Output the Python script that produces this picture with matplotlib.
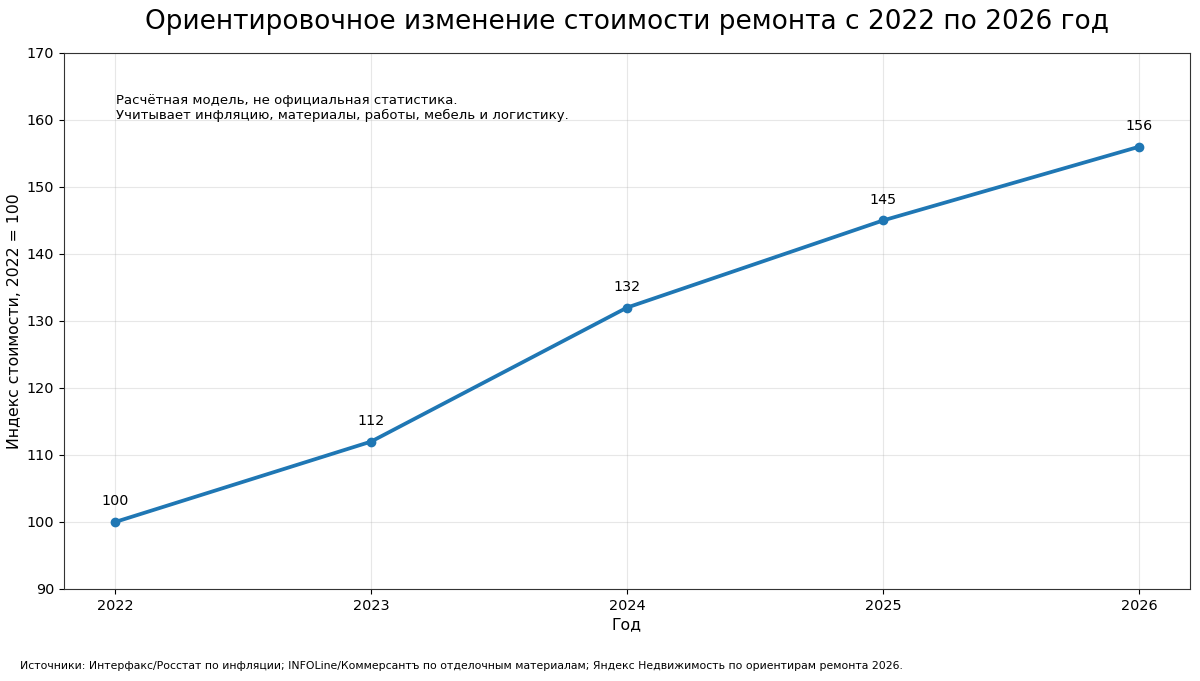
import matplotlib
matplotlib.use("Agg")
import matplotlib.pyplot as plt

years = [2022, 2023, 2024, 2025, 2026]
index_values = [100, 112, 132, 145, 156]
y_ticks = [90, 100, 110, 120, 130, 140, 150, 160, 170]

title = "Ориентировочное изменение стоимости ремонта с 2022 по 2026 год"
x_label = "Год"
y_label = "Индекс стоимости, 2022 = 100"
note = "Расчётная модель, не официальная статистика.\nУчитывает инфляцию, материалы, работы, мебель и логистику."
footer = ("Источники: Интерфакс/Росстат по инфляции; INFOLine/Коммерсантъ по отделочным материалам; "
          "Яндекс Недвижимость по ориентирам ремонта 2026.")

plt.rcParams['font.family'] = ['DejaVu Sans']
fig = plt.figure(figsize=(12, 6.81), dpi=100)
ax = fig.add_axes([0.0533, 0.1351, 0.9384, 0.7871])

ax.plot(years, index_values, color="#1f77b4", linewidth=2.7, marker="o", markersize=6)
for x, y in zip(years, index_values):
    ax.annotate(str(y), (x, y), xytext=(0, 10), textcoords="offset points",
                ha="center", va="bottom", fontsize=10.3)

ax.set_ylim(90, 170)
ax.set_yticks(y_ticks)
ax.set_xticks(years)
ax.set_xticklabels([str(y) for y in years])
ax.tick_params(labelsize=10.4)
for s in ax.spines.values():
    s.set_color("#333333")
ax.grid(True, alpha=0.3)
ax.set_xlabel(x_label, fontsize=11.3, labelpad=3)
ax.set_ylabel(y_label, fontsize=11.3)
ax.yaxis.set_label_coords(-0.0373, 0.5)

ax.text(0.046, 0.924, note, transform=ax.transAxes, ha="left", va="top", fontsize=9.5)
ax.text(0.5, 1.0 + 31 / 536, title, transform=ax.transAxes, fontsize=19, ha="center", va="center")
fig.text(0.0167, 0.022, footer, ha="left", va="center", fontsize=7.8)

fig.savefig("out.png", dpi=100)
